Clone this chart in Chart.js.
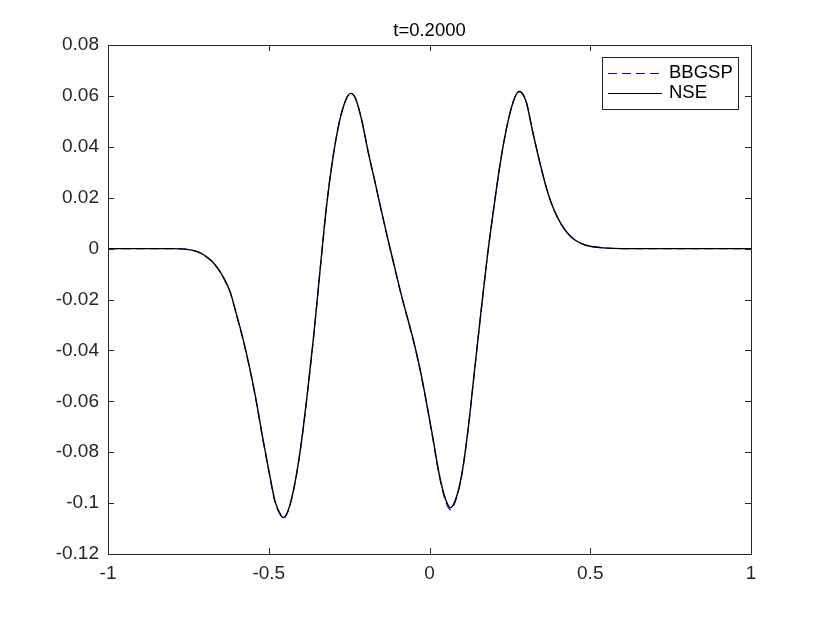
<!DOCTYPE html>
<html>
<head>
<meta charset="utf-8">
<script src="https://cdn.jsdelivr.net/npm/chart.js@4.4.1/dist/chart.umd.min.js"></script>
<style>
  html, body { margin: 0; padding: 0; background: #fff; }
  #wrap { width: 830px; height: 623px; }
</style>
</head>
<body>
<div id="wrap"><canvas id="waveChart" width="830" height="623"></canvas></div>
<script>
// values
const xs = [-1, -0.9, -0.8, -0.76, -0.74, -0.72, -0.70, -0.68, -0.66, -0.64, -0.62, -0.60, -0.58, -0.56,
    -0.54, -0.52, -0.50, -0.48, -0.46, -0.455, -0.44, -0.42, -0.40, -0.38, -0.36, -0.34, -0.32, -0.30,
    -0.28, -0.26, -0.245, -0.23, -0.21, -0.19, -0.17, -0.15, -0.13, -0.11, -0.09, -0.07, -0.05, -0.03,
    -0.01, 0.01, 0.03, 0.05, 0.065, 0.08, 0.10, 0.12, 0.14, 0.16, 0.18, 0.20, 0.22, 0.24, 0.26, 0.278,
    0.30, 0.32, 0.34, 0.36, 0.38, 0.40, 0.42, 0.44, 0.46, 0.48, 0.50, 0.54, 0.60, 0.70, 0.80, 0.90, 1];
const nse = [0, 0, 0, -0.0002, -0.0006, -0.0013, -0.0026, -0.0046, -0.0075, -0.0115, -0.0170, -0.0260, -0.0355, -0.0465,
    -0.0590, -0.0735, -0.0870, -0.0995, -0.1052, -0.1057, -0.1030, -0.0930, -0.0775, -0.0570, -0.0340, -0.0080, 0.0170, 0.0360,
    0.0500, 0.0585, 0.0610, 0.0590, 0.0500, 0.0375, 0.0265, 0.0150, 0.0040, -0.0065, -0.0170, -0.0265, -0.0360, -0.0470,
    -0.0600, -0.0740, -0.0885, -0.0985, -0.1018, -0.0990, -0.0890, -0.0710, -0.0480, -0.0250, -0.0030, 0.0160, 0.0335, 0.0475, 0.0575, 0.0617,
    0.0580, 0.0465, 0.0355, 0.0255, 0.0175, 0.0118, 0.0076, 0.0047, 0.0028, 0.0016, 0.0009, 0.0003, 0, 0, 0, 0, 0];
const bbgsp = [0, 0, 0, -0.0002, -0.0006, -0.0013, -0.0027, -0.0047, -0.0076, -0.0117, -0.0172, -0.0263, -0.0358, -0.0468,
    -0.0593, -0.0738, -0.0873, -0.0998, -0.1055, -0.1060, -0.1032, -0.0932, -0.0777, -0.0572, -0.0341, -0.0080, 0.0170, 0.0360,
    0.0500, 0.0585, 0.0611, 0.0590, 0.0500, 0.0375, 0.0264, 0.0149, 0.0039, -0.0067, -0.0172, -0.0268, -0.0363, -0.0473,
    -0.0603, -0.0744, -0.0890, -0.0992, -0.1026, -0.0995, -0.0893, -0.0712, -0.0481, -0.0251, -0.0030, 0.0160, 0.0335, 0.0476, 0.0576, 0.0618,
    0.0580, 0.0465, 0.0355, 0.0255, 0.0175, 0.0118, 0.0076, 0.0047, 0.0028, 0.0016, 0.0009, 0.0003, 0, 0, 0, 0, 0];
const xTicks = [-1, -0.5, 0, 0.5, 1];
const yTicks = [-0.12, -0.1, -0.08, -0.06, -0.04, -0.02, 0, 0.02, 0.04, 0.06, 0.08];
const titleText = 't=0.2000';

const axisColor = '#262626';
const fontFamily = '"Liberation Sans", Arial, Helvetica, sans-serif';

function fmt(v) {
    return String(parseFloat(v.toFixed(2)));
}

// box, inward ticks, title and legend drawn like the original figure
const matlabAxes = {
    id: 'matlabAxes',
    afterDraw(chart) {
        const ctx = chart.ctx;
        const a = chart.chartArea;
        const sx = chart.scales.x, sy = chart.scales.y;
        ctx.save();
        ctx.strokeStyle = axisColor;
        ctx.lineWidth = 1;
        ctx.beginPath();
        ctx.rect(Math.round(a.left) + 0.5, Math.round(a.top) + 0.5,
            Math.round(a.right - a.left), Math.round(a.bottom - a.top));
        ctx.stroke();

        const len = 6;
        ctx.beginPath();
        xTicks.forEach(v => {
            const px = Math.round(sx.getPixelForValue(v)) + 0.5;
            ctx.moveTo(px, a.bottom); ctx.lineTo(px, a.bottom - len);
            ctx.moveTo(px, a.top); ctx.lineTo(px, a.top + len);
        });
        yTicks.forEach(v => {
            const py = Math.round(sy.getPixelForValue(v)) + 0.5;
            ctx.moveTo(a.left, py); ctx.lineTo(a.left + len, py);
            ctx.moveTo(a.right, py); ctx.lineTo(a.right - len, py);
        });
        ctx.stroke();

        // title
        ctx.fillStyle = '#000';
        ctx.font = '18.5px ' + fontFamily;
        ctx.textAlign = 'center';
        ctx.textBaseline = 'middle';
        ctx.fillText(titleText, (a.left + a.right) / 2, 31);

        // legend
        const bx = 602.5, by = 57.5, bw = 136, bh = 52;
        ctx.fillStyle = '#fff';
        ctx.fillRect(bx, by, bw, bh);
        ctx.strokeStyle = axisColor;
        ctx.strokeRect(bx, by, bw, bh);
        const rows = [73, 93];
        chart.data.datasets.forEach((ds, i) => {
            ctx.beginPath();
            ctx.strokeStyle = ds.borderColor;
            ctx.lineWidth = 1.2;
            ctx.setLineDash(ds.borderDash || []);
            ctx.moveTo(608, rows[i] + 0.5);
            ctx.lineTo(662, rows[i] + 0.5);
            ctx.stroke();
            ctx.setLineDash([]);
            ctx.fillStyle = '#000';
            ctx.textAlign = 'left';
            ctx.fillText(ds.label, 669, rows[i]);
        });
        ctx.restore();
    }
};

function toPoints(ys) {
    return xs.map((x, i) => ({ x: x, y: ys[i] }));
}

const ctx = document.getElementById('waveChart').getContext('2d');
new Chart(ctx, {
    type: 'line',
    data: {
        datasets: [{
            label: 'BBGSP',
            data: toPoints(bbgsp),
            borderColor: '#0000ff',
            borderDash: [9, 5],
            borderWidth: 1.2,
            order: 2
        }, {
            label: 'NSE',
            data: toPoints(nse),
            borderColor: '#000000',
            borderWidth: 1.4,
            order: 1
        }]
    },
    options: {
        responsive: false,
        animation: false,
        events: [],
        parsing: false,
        elements: {
            point: { radius: 0 },
            line: { cubicInterpolationMode: 'monotone' }
        },
        layout: { padding: { left: 0, top: 45, right: 79, bottom: 0 } },
        plugins: {
            legend: { display: false },
            tooltip: { enabled: false },
            title: { display: false }
        },
        scales: {
            x: {
                type: 'linear',
                min: -1,
                max: 1,
                afterFit(scale) { scale.height = 69; },
                afterBuildTicks(scale) { scale.ticks = xTicks.map(v => ({ value: v })); },
                grid: { display: false, drawTicks: false },
                border: { display: false },
                ticks: {
                    padding: 8,
                    color: axisColor,
                    font: { family: fontFamily, size: 19 },
                    callback: v => fmt(v),
                    maxRotation: 0
                }
            },
            y: {
                type: 'linear',
                min: -0.12,
                max: 0.08,
                afterFit(scale) { scale.width = 108; },
                afterBuildTicks(scale) { scale.ticks = yTicks.map(v => ({ value: v })); },
                grid: { display: false, drawTicks: false },
                border: { display: false },
                ticks: {
                    padding: 9,
                    color: axisColor,
                    font: { family: fontFamily, size: 19 },
                    callback: v => fmt(v)
                }
            }
        }
    },
    plugins: [matlabAxes]
});
</script>
</body>
</html>
